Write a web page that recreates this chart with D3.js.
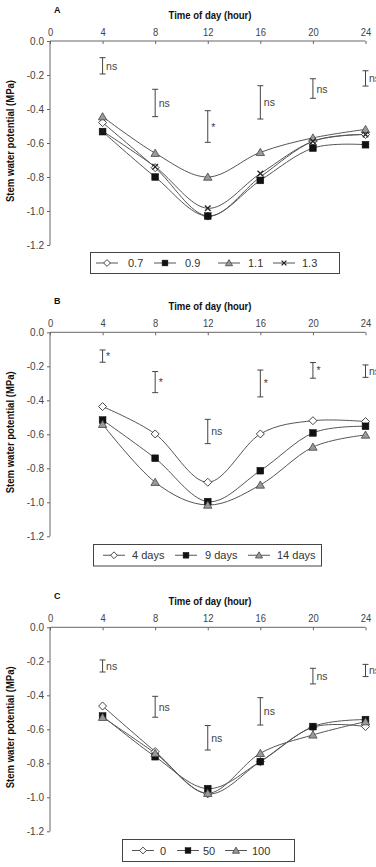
<!DOCTYPE html>
<html><head><meta charset="utf-8">
<script src="https://cdn.jsdelivr.net/npm/d3@7"></script>
<style>
body{margin:0;background:#fff;}
svg{display:block;}
text{font-family:"Liberation Sans",Arial,sans-serif;}
</style></head><body><svg id="c" width="376" height="867"></svg>
<script>
// ---- shared axes ----
const hours = [4, 8, 12, 16, 20, 24];
const xTicks = [0, 4, 8, 12, 16, 20, 24];
const yTicks = [0, -0.2, -0.4, -0.6, -0.8, -1.0, -1.2];

// ---- Panel A ----
const namesA = ["0.7", "0.9", "1.1", "1.3"];
const a07 = [-0.48, -0.745, -1.03, -0.80, -0.59, -0.55];
const a09 = [-0.533, -0.80, -1.03, -0.82, -0.63, -0.61];
const a11 = [-0.445, -0.66, -0.80, -0.655, -0.57, -0.52];
const a13 = [-0.53, -0.74, -0.984, -0.78, -0.59, -0.55];
const errTopA = [-0.098, -0.284, -0.41, -0.263, -0.222, -0.175];
const errBotA = [-0.194, -0.445, -0.596, -0.459, -0.337, -0.265];
const sigA = ["ns", "ns", "*", "ns", "ns", "ns"];

// ---- Panel B ----
const namesB = ["4 days", "9 days", "14 days"];
const b4 = [-0.437, -0.598, -0.882, -0.598, -0.52, -0.525];
const b9 = [-0.516, -0.741, -0.996, -0.814, -0.592, -0.553];
const b14 = [-0.541, -0.882, -1.016, -0.898, -0.675, -0.604];
const errTopB = [-0.104, -0.231, -0.512, -0.222, -0.178, -0.192];
const errBotB = [-0.176, -0.355, -0.655, -0.38, -0.27, -0.265];
const sigB = ["*", "*", "ns", "*", "*", "ns"];

// ---- Panel C ----
const namesC = ["0", "50", "100"];
const c0 = [-0.463, -0.731, -0.98, -0.79, -0.588, -0.584];
const c50 = [-0.522, -0.761, -0.949, -0.79, -0.584, -0.543];
const c100 = [-0.529, -0.741, -0.976, -0.741, -0.633, -0.555];
const errTopC = [-0.192, -0.406, -0.578, -0.414, -0.241, -0.218];
const errBotC = [-0.263, -0.529, -0.722, -0.575, -0.333, -0.29];
const sigC = ["ns", "ns", "ns", "ns", "ns", "ns"];

const svg = d3.select("#c");
const gray = "#555";

function marker(g, type, k) {
  k = k || 1;
  if (type === "diamond") {
    const r = 4 * k;
    g.append("path").attr("d", `M0,${-r}L${r},0L0,${r}L${-r},0Z`)
      .attr("fill", "#fff").attr("stroke", "#333").attr("stroke-width", 0.9);
  } else if (type === "square") {
    const s = 3.4 * k;
    g.append("rect").attr("x", -s).attr("y", -s).attr("width", 2 * s).attr("height", 2 * s)
      .attr("fill", "#111").attr("stroke", "#111").attr("stroke-width", 0.5);
  } else if (type === "triangle") {
    g.append("path").attr("d", `M0,${-4 * k}L${4.2 * k},${3.2 * k}L${-4.2 * k},${3.2 * k}Z`)
      .attr("fill", "#999").attr("stroke", "#444").attr("stroke-width", 0.8);
  } else if (type === "x") {
    const r = 2.8 * k;
    g.append("path").attr("d", `M${-r},${-r}L${r},${r}M${-r},${r}L${r},${-r}`)
      .attr("stroke", "#222").attr("stroke-width", 1.3).attr("fill", "none");
  }
}

function panel(cfg) {
  const g = svg.append("g");
  const x = d3.scaleLinear().domain([0, 24]).range([50, 365.5]);
  const y = d3.scaleLinear().domain([0, -1.2]).range([cfg.y0, cfg.y0 + 204]);

  // panel letter & title
  g.append("text").attr("x", 54).attr("y", cfg.y0 - 28.5).text(cfg.letter)
    .attr("font-weight", "bold").attr("font-size", 9).attr("fill", "#111");
  g.append("text").attr("x", 210).attr("y", cfg.y0 - 22.3).attr("text-anchor", "middle")
    .text("Time of day (hour)").attr("font-weight", "bold").attr("font-size", 10.5)
    .attr("textLength", 83).attr("lengthAdjust", "spacingAndGlyphs").attr("fill", "#111");

  // top x axis
  const xa = d3.axisTop(x).tickValues(xTicks).tickSize(-3).tickPadding(5).tickFormat(d3.format("d"));
  const xg = g.append("g").attr("transform", `translate(0,${cfg.y0})`).call(xa);
  xg.select(".domain").attr("d", `M${x(0)},0H${x(24)}`).attr("stroke", "#666");
  xg.selectAll(".tick line").attr("stroke", "#666");
  xg.selectAll(".tick text").attr("font-size", 11.5).attr("fill", "#444")
    .attr("transform", "scale(0.82,1)")
    .attr("font-family", '"Liberation Sans",Arial,sans-serif');

  // left y axis
  const ya = d3.axisLeft(y).tickValues(yTicks).tickSize(3).tickPadding(3).tickFormat(d3.format(".1f"));
  const yg = g.append("g").attr("transform", `translate(${x(0)},0)`).call(ya);
  yg.select(".domain").attr("d", `M0,${y(0)}V${y(-1.2)}`).attr("stroke", "#666");
  yg.selectAll(".tick line").attr("stroke", "#666");
  yg.selectAll(".tick text").attr("font-size", 10).attr("fill", "#444")
    .text(d => d3.format(".1f")(d).replace("−", "-"))
    .attr("font-family", '"Liberation Sans",Arial,sans-serif');

  // y label
  g.append("text").attr("transform", `translate(13.5,${cfg.y0 + 100}) rotate(-90)`)
    .attr("text-anchor", "middle").text("Stem water potential (MPa)")
    .attr("textLength", 122).attr("lengthAdjust", "spacingAndGlyphs")
    .attr("font-weight", "bold").attr("font-size", 10.5).attr("fill", "#111");

  // error bars
  hours.forEach((h, i) => {
    const xx = x(h), t = y(cfg.errTop[i]), b = y(cfg.errBot[i]);
    g.append("path").attr("d", `M${xx},${t}V${b}M${xx - 3},${t}H${xx + 3}M${xx - 3},${b}H${xx + 3}`)
      .attr("stroke", "#444").attr("stroke-width", 1).attr("fill", "none");
    g.append("text").attr("x", xx + 3.5).attr("y", (t + b) / 2 + 4).text(cfg.sig[i])
      .attr("font-size", 10.5).attr("fill", "#444");
  });

  // series lines
  const line = d3.line().x((d, i) => x(hours[i])).y(d => y(d)).curve(d3.curveCardinal.tension(0));
  cfg.series.forEach(s => {
    g.append("path").attr("d", line(s.values)).attr("fill", "none")
      .attr("stroke", gray).attr("stroke-width", 1);
  });
  cfg.series.forEach(s => {
    s.values.forEach((v, i) => {
      const m = g.append("g").attr("transform", `translate(${x(hours[i])},${y(v)})`);
      marker(m, s.type, 1);
    });
  });

  // legend
  const L = cfg.legend;
  g.append("rect").attr("x", L.x).attr("y", L.y).attr("width", L.w).attr("height", L.h)
    .attr("fill", "#fff").attr("stroke", "#444").attr("stroke-width", 1);
  const cy = L.y + L.h / 2;
  cfg.series.forEach((s, i) => {
    const lx = L.lines[i];
    g.append("path").attr("d", `M${lx},${cy}H${lx + 22}`).attr("stroke", gray).attr("stroke-width", 1);
    const m = g.append("g").attr("transform", `translate(${lx + 11},${cy})`);
    marker(m, s.type, 0.85);
    g.append("text").attr("x", L.texts[i]).attr("y", cy + 4).text(s.name)
      .attr("font-size", 11).attr("fill", "#333");
  });
}

const types4 = ["diamond", "square", "triangle", "x"];
panel({
  letter: "A", y0: 41,
  series: [a07, a09, a11, a13].map((v, i) => ({ name: namesA[i], values: v, type: types4[i] })),
  errTop: errTopA, errBot: errBotA, sig: sigA,
  legend: { x: 90.5, y: 252.5, w: 249, h: 21, lines: [96, 154, 218, 273], texts: [128, 185, 248, 302] }
});
panel({
  letter: "B", y0: 332.3,
  series: [b4, b9, b14].map((v, i) => ({ name: namesB[i], values: v, type: types4[i] })),
  errTop: errTopB, errBot: errBotB, sig: sigB,
  legend: { x: 93.5, y: 544.5, w: 228, h: 21.5, lines: [103, 175, 248], texts: [132, 205, 277] }
});
panel({
  letter: "C", y0: 627.3,
  series: [c0, c50, c100].map((v, i) => ({ name: namesC[i], values: v, type: types4[i] })),
  errTop: errTopC, errBot: errBotC, sig: sigC,
  legend: { x: 122.5, y: 839.5, w: 172, h: 22, lines: [132, 177, 225], texts: [160, 203, 252] }
});
</script></body></html>
